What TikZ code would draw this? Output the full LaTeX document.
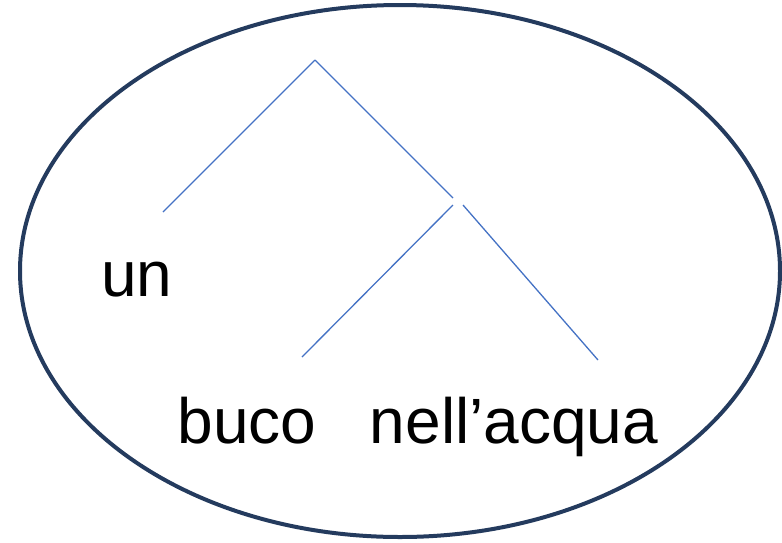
\documentclass[tikz,border=0pt]{standalone}
\usepackage{fontspec}
\setmainfont{Liberation Sans}
\definecolor{rim}{HTML}{243B5E}
\definecolor{branch}{HTML}{4472C4}
\tikzset{
  word/.style={font=\fontsize{64}{76}\selectfont, inner sep=0pt, anchor=base},
  edge/.style={branch, line width=1.3pt}
}
\begin{document}
\begin{tikzpicture}[x=1pt, y=-1pt]
    \useasboundingbox (0,0) rectangle (782,542);
    \draw[rim, line width=4pt] (400,271) ellipse [x radius=380, y radius=266];
    % tree
    \coordinate (root) at (315,60);
    \coordinate (unleaf) at (163,212);
    \coordinate (nodeA) at (453,198);
    \coordinate (nodeB) at (453,205);
    \coordinate (nodeC) at (463,205);
    \coordinate (bucoleaf) at (302,357);
    \coordinate (acqualeaf) at (598,360);
    \draw[edge] (root) -- (unleaf);
    \draw[edge] (root) -- (nodeA);
    \draw[edge] (nodeB) -- (bucoleaf);
    \draw[edge] (nodeC) -- (acqualeaf);
    % words
    \node[word] (un) at (137,296) {un};
    \node[word] (buco) at (247,443) {buco};
    \node[word] (acqua) at (514,443) {nell’acqua};
\end{tikzpicture}
\end{document}
